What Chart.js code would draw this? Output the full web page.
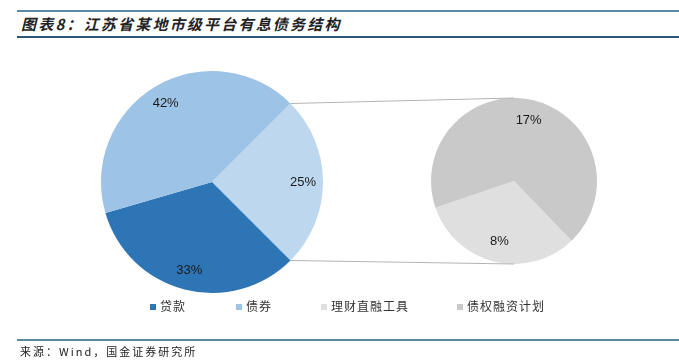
<!DOCTYPE html>
<html>
<head>
<meta charset="utf-8">
<script src="https://cdn.jsdelivr.net/npm/chart.js@4.4.1/dist/chart.umd.min.js"></script>
<style>
    body { margin: 0; background: #fff; }
    #wrap { position: relative; width: 679px; height: 362px; overflow: hidden; background: #fff; font-family: "Noto Sans CJK SC", sans-serif; }
    .rule { position: absolute; left: 17px; right: 0; }
    #title { position: absolute; left: 21px; top: 13px; font-size: 15px; font-weight: bold; font-style: italic; letter-spacing: 2.2px; color: #222; line-height: 22px; }
    #source { position: absolute; left: 20px; top: 343px; font-size: 11px; letter-spacing: 2px; color: #222; line-height: 16px; }
    #legend { position: absolute; top: 298px; left: 0; width: 679px; height: 16px; font-size: 12px; letter-spacing: 1px; color: #333; }
    .item { position: absolute; top: 0; line-height: 16px; white-space: nowrap; }
    .box { display: inline-block; width: 6px; height: 6px; margin-right: 4px; vertical-align: 1px; }
    canvas { position: absolute; }
</style>
</head>
<body>
<div id="wrap">
    <div class="rule" style="top:10px;height:2px;background:#5b8aa6"></div>
    <div id="title">图表8：江苏省某地市级平台有息债务结构</div>
    <div class="rule" style="top:36px;height:2px;background:#2b5676"></div>
    <canvas id="mainPie" width="222" height="222" style="left:101px;top:71px"></canvas>
    <canvas id="subPie" width="166" height="166" style="left:431px;top:98px"></canvas>
    <canvas id="links" width="679" height="362" style="left:0;top:0;pointer-events:none"></canvas>
    <div id="legend"></div>
    <div class="rule" style="top:339px;height:2px;background:#5a8a9e"></div>
    <div id="source">来源：Wind，国金证券研究所</div>
</div>
<script>
// data
const categories = ['贷款', '债券', '理财直融工具', '债权融资计划'];
const categoryColors = ['#2e75b6', '#9dc3e6', '#dfdfdf', '#c9c9c9'];
const loanShare = 33;
const bondShare = 42;
const subLabels = ['理财直融工具', '债权融资计划'];
const subValues = [8, 17];
const otherColor = '#bdd7ee';

const otherShare = subValues.reduce((a, b) => a + b, 0);
const mainValues = [otherShare, loanShare, bondShare];
const mainColors = [otherColor, categoryColors[0], categoryColors[1]];
const subColors = [categoryColors[2], categoryColors[3]];

// percent labels inside the slices
const pctLabels = {
    id: 'pctLabels',
    afterDatasetsDraw(chart, args, opts) {
        const ctx = chart.ctx;
        const meta = chart.getDatasetMeta(0);
        const values = chart.data.datasets[0].data;
        ctx.save();
        ctx.font = '13px "Liberation Sans", Arial, sans-serif';
        ctx.fillStyle = '#1a1a1a';
        ctx.textAlign = 'center';
        ctx.textBaseline = 'middle';
        meta.data.forEach((arc, i) => {
            const p = arc.getProps(['x', 'y', 'startAngle', 'endAngle', 'outerRadius'], true);
            const mid = (p.startAngle + p.endAngle) / 2;
            const r = p.outerRadius * opts.factor;
            ctx.fillText(values[i] + '%', p.x + Math.cos(mid) * r, p.y + Math.sin(mid) * r);
        });
        ctx.restore();
    }
};

function makePie(id, labels, data, colors, rotation, factor) {
    const ctx = document.getElementById(id).getContext('2d');
    return new Chart(ctx, {
        type: 'pie',
        data: {
            labels: labels,
            datasets: [{
                data: data,
                backgroundColor: colors,
                borderWidth: 0
            }]
        },
        options: {
            responsive: false,
            animation: false,
            rotation: rotation,
            layout: { padding: 0 },
            plugins: {
                legend: { display: false },
                tooltip: { enabled: false },
                pctLabels: { factor: factor }
            }
        },
        plugins: [pctLabels]
    });
}

const mainChart = makePie('mainPie', ['其他', '贷款', '债券'], mainValues, mainColors, 45, 0.82);
const subChart = makePie('subPie', subLabels, subValues, subColors, 136, 0.75);

// connector lines between the two pies
function drawLinks() {
    const canvas = document.getElementById('links');
    const ctx = canvas.getContext('2d');
    const mainEl = document.getElementById('mainPie');
    const subEl = document.getElementById('subPie');
    const a = mainChart.getDatasetMeta(0).data[0].getProps(['x', 'y', 'startAngle', 'endAngle', 'outerRadius'], true);
    const b = subChart.getDatasetMeta(0).data[0].getProps(['x', 'y', 'outerRadius'], true);
    const ax = mainEl.offsetLeft + a.x, ay = mainEl.offsetTop + a.y;
    const bx = subEl.offsetLeft + b.x, by = subEl.offsetTop + b.y;

    ctx.strokeStyle = '#b3b3b3';
    ctx.lineWidth = 1;
    ctx.beginPath();
    ctx.moveTo(ax + Math.cos(a.startAngle) * a.outerRadius, ay + Math.sin(a.startAngle) * a.outerRadius);
    ctx.lineTo(bx, by - b.outerRadius);
    ctx.moveTo(ax + Math.cos(a.endAngle) * a.outerRadius, ay + Math.sin(a.endAngle) * a.outerRadius);
    ctx.lineTo(bx, by + b.outerRadius);
    ctx.stroke();
}
drawLinks();

// legend
const legendPos = [150, 236, 321, 457];
const legend = document.getElementById('legend');
categories.forEach((name, i) => {
    const item = document.createElement('div');
    item.className = 'item';
    item.style.left = legendPos[i] + 'px';
    item.innerHTML = '<span class="box" style="background:' + categoryColors[i] + '"></span>' + name;
    legend.appendChild(item);
});
</script>
</body>
</html>
